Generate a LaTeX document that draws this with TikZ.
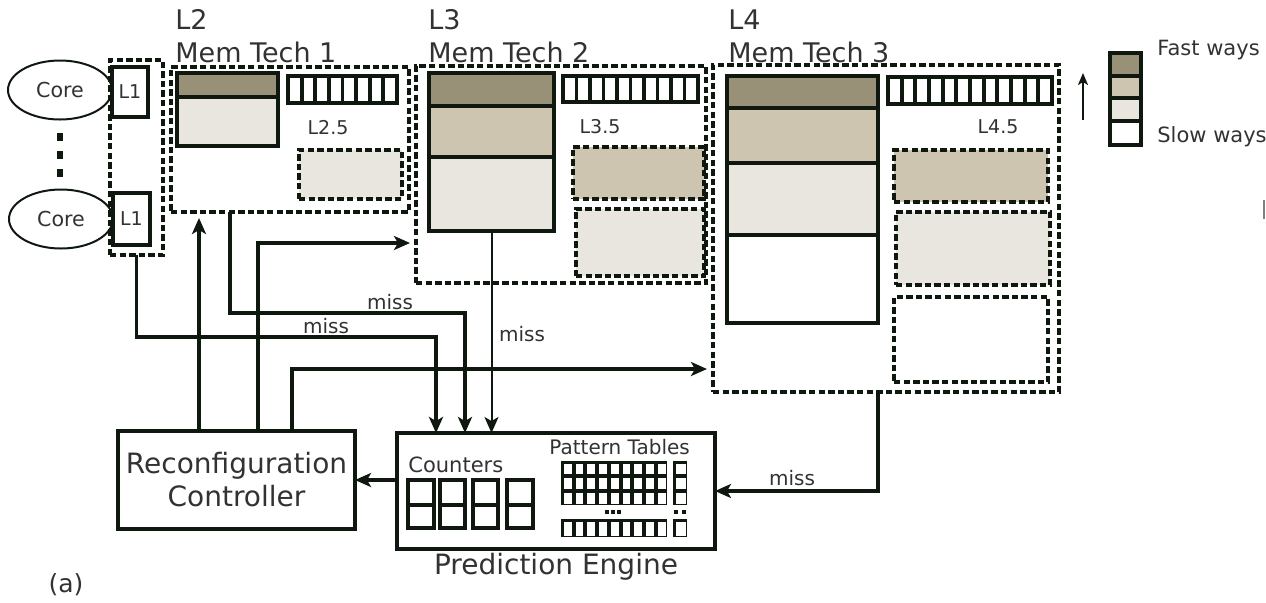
\documentclass[tikz,border=0pt]{standalone}
\usepackage{fontspec}
\setmainfont{DejaVu Sans}
\usetikzlibrary{fit,arrows.meta,calc,shapes.geometric}
\definecolor{ink}{RGB}{14,24,14}
\definecolor{fastc}{RGB}{152,145,120}
\definecolor{midc}{RGB}{205,197,176}
\definecolor{lightc}{RGB}{233,230,223}
\definecolor{txt}{RGB}{50,50,50}
\newcommand\tagarr[5]{%
  \draw[ink, line width=1.9pt, fill=white] (#1,#2) rectangle (#3,#4);
  \pgfmathsetmacro\tagn{int(#5-1)}%
  \foreach \i in {1,...,\tagn}{
    \draw[ink, line width=1.9pt] ({#1+\i*(#3-#1)/#5},#2) -- ({#1+\i*(#3-#1)/#5},#4);
  }}
\newcommand\cellgrid[6]{%
  \fill[ink] (#1,#2) rectangle (#3,#4);
  \foreach \c in {1,...,#5}{\foreach \r in {1,...,#6}{
    \fill[white] ({#1+(\c-1)*(#3-#1)/#5+2.8},{#2+(\r-1)*(#4-#2)/#6+2.8})
      rectangle ({#1+\c*(#3-#1)/#5-1.2},{#2+\r*(#4-#2)/#6-1.2});
  }}}
\begin{document}
\begin{tikzpicture}[x=0.5pt,y=-0.5pt,
  solidbox/.style={draw=ink, line width=2pt},
  dashbox/.style={draw=ink, line width=1.8pt, dash pattern=on 3.2pt off 1.6pt},
  fitbox/.style={inner sep=0pt, outer sep=0pt},
  arr/.style={draw=ink, line width=1.7pt, -{Stealth[length=8pt,width=7pt,inset=2pt]}},
  thinarr/.style={draw=ink, line width=1pt, -{Stealth[length=8pt,width=7pt,inset=2pt]}},
  coreshape/.style={draw=ink, line width=1pt, ellipse, minimum width=52pt, minimum height=29.5pt, text=txt, font=\fontsize{10.3}{12}\selectfont},
  title/.style={text=txt, font=\fontsize{13.5}{16}\selectfont, anchor=base west, inner sep=0pt},
  small/.style={text=txt, font=\fontsize{9.5}{11}\selectfont, inner sep=0pt},
  misslbl/.style={text=txt, font=\fontsize{10}{12}\selectfont, inner sep=0pt},
  big/.style={text=txt, font=\fontsize{14}{16.5}\selectfont, inner sep=0pt, align=center}
]
\useasboundingbox (0,0) rectangle (1266,602);

% ---------- cores and L1 ----------
\node[coreshape] (core1) at (60,90) {Core};
\node[coreshape] (core2) at (61,219) {Core};
\foreach \yy in {137,155,173}{\fill[ink] (57,\yy-4) rectangle (63,\yy+4);}
\node[solidbox, fill=white, minimum width=17pt, minimum height=25pt, text=txt, font=\fontsize{9.5}{11}\selectfont] (l1a) at (130,92) {L1};
\node[solidbox, fill=white, minimum width=16.5pt, minimum height=26pt, text=txt, font=\fontsize{9.5}{11}\selectfont] (l1b) at (131.5,219) {L1};
\node[dashbox, fitbox, fit={(110,60)(163,255)}] (l1g) {};

% ---------- L2 ----------
\node[title] (l2t) at (175,29) {L2};
\node[title] (l2m) at (175,62) {Mem Tech 1};
\node[dashbox, fitbox, fit={(171,67)(409,212)}] (l2) {};
\fill[fastc] (177,73) rectangle (278,97);
\fill[lightc] (177,97) rectangle (278,146);
\draw[solidbox] (177,97) -- (278,97);
\node[solidbox, fitbox, fit={(177,73)(278,146)}] (l2w) {};
\tagarr{288}{76}{397}{103}{8}
\node[small] (l25) at (328,128) {L2.5};
\node[dashbox, fitbox, fill=lightc, fit={(299,150)(402,199)}] (l25b) {};

% ---------- L3 ----------
\node[title] (l3t) at (428,29) {L3};
\node[title] (l3m) at (428,62) {Mem Tech 2};
\node[dashbox, fitbox, fit={(416,66)(706,283)}] (l3) {};
\fill[fastc] (429,73) rectangle (554,106);
\fill[midc] (429,106) rectangle (554,157);
\fill[lightc] (429,157) rectangle (554,231);
\draw[solidbox] (429,106) -- (554,106) (429,157) -- (554,157);
\node[solidbox, fitbox, fit={(429,73)(554,231)}] (l3w) {};
\tagarr{563}{76}{698}{102}{10}
\node[small] (l35) at (600,127) {L3.5};
\node[dashbox, fitbox, fill=midc, fit={(573,147)(704,199)}] (l35a) {};
\node[dashbox, fitbox, fill=lightc, fit={(576,209)(704,276)}] (l35b) {};

% ---------- L4 ----------
\node[title] (l4t) at (728,29) {L4};
\node[title] (l4m) at (728,62) {Mem Tech 3};
\node[dashbox, fitbox, fit={(713,65)(1059,392)}] (l4) {};
\fill[fastc] (727,76) rectangle (878,108);
\fill[midc] (727,108) rectangle (878,163);
\fill[lightc] (727,163) rectangle (878,235);
\draw[solidbox] (727,108) -- (878,108) (727,163) -- (878,163) (727,235) -- (878,235);
\node[solidbox, fitbox, fit={(727,76)(878,323)}] (l4w) {};
\tagarr{888}{77}{1052}{104}{12}
\node[small] (l45) at (998,127) {L4.5};
\node[dashbox, fitbox, fill=midc, fit={(894,150)(1048,202)}] (l45a) {};
\node[dashbox, fitbox, fill=lightc, fit={(896,212)(1050,285)}] (l45b) {};
\node[dashbox, fitbox, fill=white, fit={(894,297)(1048,382)}] (l45c) {};

% ---------- legend ----------
\fill[fastc] (1110,53) rectangle (1141,76);
\fill[midc] (1110,76) rectangle (1141,98);
\fill[lightc] (1110,98) rectangle (1141,121);
\draw[solidbox] (1110,76) -- (1141,76) (1110,98) -- (1141,98) (1110,121) -- (1141,121);
\node[solidbox, fitbox, fit={(1110,53)(1141,145)}] (leg) {};
\coordinate (legA) at (1083,120);
\coordinate (legB) at (1083,73);
\draw[draw=ink, line width=1pt, -{Stealth[length=6pt,width=5pt,inset=1.5pt]}] (legA) -- (legB);
\node[misslbl, anchor=west, font=\fontsize{10.5}{12}\selectfont] (fast) at (1157,50) {Fast ways};
\node[misslbl, anchor=west, font=\fontsize{10.5}{12}\selectfont] (slow) at (1157,137) {Slow ways};
\draw[gray, line width=0.8pt] (1264,200) -- (1264,219);

% ---------- reconfiguration controller ----------
\node[draw=ink, line width=2.2pt, fitbox, fit={(118,431)(355,529)}] (rc) {};
\node[big] (rct) at (rc.center) {Reconfiguration\\Controller};

% ---------- prediction engine ----------
\node[draw=ink, line width=2pt, fitbox, fit={(397,433)(715,549)}] (pe) {};
\node[big, anchor=north] (pet) at (556,553) {Prediction Engine};
\node[misslbl, anchor=west, font=\fontsize{10.5}{12}\selectfont] (cnt) at (408,465) {Counters};
\foreach \xa/\xb in {408/434,440/465,473/498,507/533}{
  \draw[draw=ink, line width=1.6pt] (\xa,480) rectangle (\xb,528) (\xa,505) -- (\xb,505);
}
\node[misslbl, anchor=west] (ptt) at (549,447) {Pattern Tables};
\cellgrid{561}{461}{667}{505}{9}{3}
\cellgrid{673}{461}{687}{505}{1}{3}
\cellgrid{561}{519}{667}{537}{9}{1}
\cellgrid{673}{519}{687}{537}{1}{1}
\foreach \xx in {607,613,619,676,684}{\fill[ink] (\xx-1.8,509.5) rectangle (\xx+1.8,513.5);}

% ---------- connectors ----------
\coordinate (pin1) at (436,433);
\coordinate (pin2) at (465,433);
\coordinate (l2o) at (230,212);
\coordinate (l4o) at (878,392);
\coordinate (rc1) at (199,431);
\coordinate (rc2) at (258,431);
\coordinate (rc3) at (292,431);
\coordinate (l3in) at (416,243);
\coordinate (l4in) at (713,369);

\draw[arr] (l1g.south) -- ++(0,82) -| (pin1);
\draw[arr] (l2o) -- ++(0,101) -| (pin2);
\draw[thinarr] (l3w.south) -- (l3w.south |- pe.north);
\draw[arr] (l4o) |- (pe.east);
\draw[arr] (pe.west |- rc.east) -- (rc.east);
\draw[arr, shorten >=3pt] (rc1) -- (rc1 |- l2.south);
\draw[arr, shorten >=3pt] (rc2) |- (l3in);
\draw[arr, shorten >=3pt] (rc3) |- (l4in);

\node[misslbl] (m1) at (390,302) {miss};
\node[misslbl] (m2) at (326,326) {miss};
\node[misslbl] (m3) at (522,334) {miss};
\node[misslbl] (m4) at (792,478) {miss};

\node[text=txt, font=\fontsize{12.5}{14}\selectfont, inner sep=0pt] (cap) at (66,585) {(a)};
\end{tikzpicture}
\end{document}
